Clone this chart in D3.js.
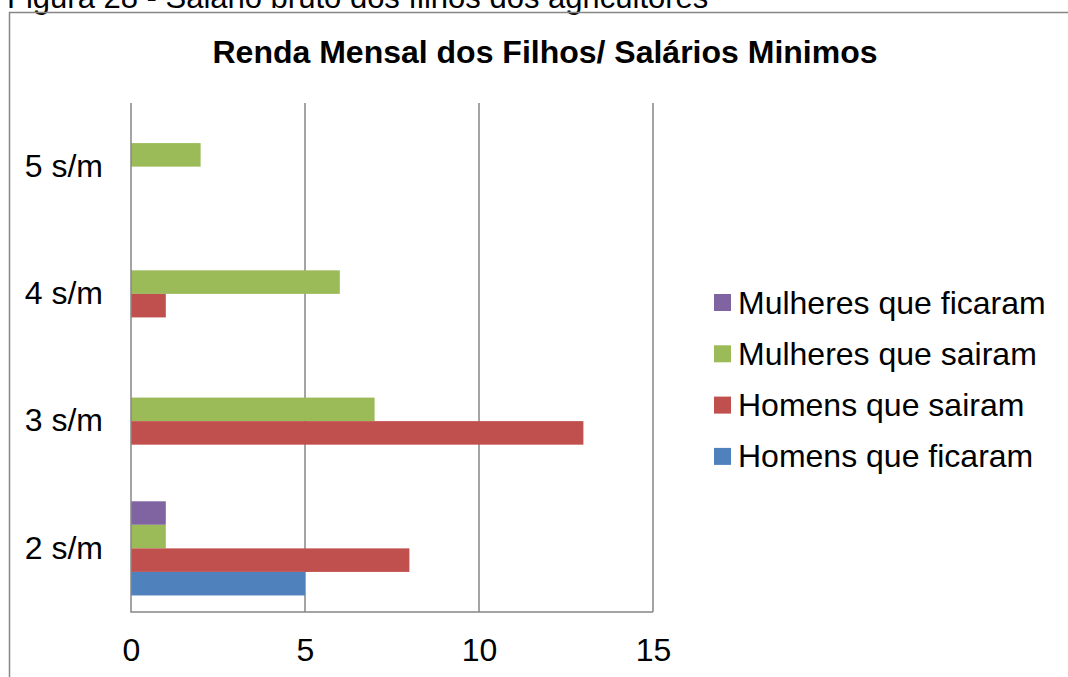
<!DOCTYPE html>
<html>
<head>
<meta charset="utf-8">
<script src="https://cdn.jsdelivr.net/npm/d3@7"></script>
<style>
  body { margin: 0; background: #fff; }
  text { font-family: "Liberation Sans", Arial, sans-serif; fill: #000; }
</style>
</head>
<body>
<script>
var categories = ["5 s/m", "4 s/m", "3 s/m", "2 s/m"];
var seriesNames = ["Mulheres que ficaram", "Mulheres que sairam", "Homens que sairam", "Homens que ficaram"];
var seriesColors = ["#8064A2", "#9BBB59", "#C0504D", "#4F81BD"];
// values per category, same order as categories
var mulheresFicaram = [0, 0, 0, 1];
var mulheresSairam  = [2, 6, 7, 1];
var homensSairam    = [0, 1, 13, 8];
var homensFicaram   = [0, 0, 0, 5];
var xTicks = [0, 5, 10, 15];

var seriesValues = [mulheresFicaram, mulheresSairam, homensSairam, homensFicaram];

var width = 1068,
    height = 677;

var svg = d3.select("body")
    .append("svg")
    .attr("width", width)
    .attr("height", height);

// caption above the chart frame (cut off at the top)
svg.append("text")
    .attr("x", 7)
    .attr("y", 8)
    .style("font-size", "31px")
    .text("Figura 28 - Salário bruto dos filhos dos agricultores");

// chart frame
svg.append("path")
    .attr("d", "M9.5,677 V12.5 H1068")
    .attr("fill", "none")
    .attr("stroke", "#868686")
    .attr("stroke-width", 1.5);

svg.append("text")
    .attr("x", 545)
    .attr("y", 63)
    .attr("text-anchor", "middle")
    .style("font-size", "32px")
    .style("font-weight", "bold")
    .text("Renda Mensal dos Filhos/ Salários Minimos");

var plotLeft = 131, plotRight = 653, plotTop = 103, plotBottom = 612;

var x = d3.scaleLinear().domain([0, 15]).range([plotLeft, plotRight]);
var y0 = d3.scaleBand().domain(categories).range([plotTop, plotBottom]);
var pad = y0.bandwidth() * 0.13;
var y1 = d3.scaleBand().domain(seriesNames).range([pad, y0.bandwidth() - pad]);

// vertical gridlines
svg.append("g")
    .selectAll("line")
    .data(xTicks.filter(function(d) { return d > 0; }))
    .enter().append("line")
    .attr("x1", function(d) { return x(d); })
    .attr("x2", function(d) { return x(d); })
    .attr("y1", plotTop)
    .attr("y2", plotBottom)
    .attr("stroke", "#868686")
    .attr("stroke-width", 1.5);

// bars
var groups = svg.append("g")
    .selectAll("g")
    .data(categories)
    .enter().append("g")
    .attr("transform", function(d) { return "translate(0," + y0(d) + ")"; });

groups.selectAll("rect")
    .data(function(c, ci) {
        return seriesNames.map(function(s, si) {
            return { name: s, value: seriesValues[si][ci], color: seriesColors[si] };
        }).filter(function(d) { return d.value > 0; });
    })
    .enter().append("rect")
    .attr("x", x(0))
    .attr("y", function(d) { return y1(d.name); })
    .attr("width", function(d) { return x(d.value) - x(0); })
    .attr("height", y1.bandwidth())
    .attr("fill", function(d) { return d.color; });

// axes lines
svg.append("path")
    .attr("d", "M" + plotLeft + "," + plotTop + " V" + plotBottom + " H" + plotRight)
    .attr("fill", "none")
    .attr("stroke", "#868686")
    .attr("stroke-width", 1.5);

// x tick labels
var xAxis = svg.append("g")
    .attr("transform", "translate(0," + plotBottom + ")")
    .call(d3.axisBottom(x).tickValues(xTicks).tickSize(0).tickPadding(26));
xAxis.select(".domain").remove();
xAxis.selectAll("text")
    .style("font-size", "32px")
    .attr("fill", "#000")
    .attr("dy", "0.72em");

// y category labels
var yAxis = svg.append("g")
    .attr("transform", "translate(" + (plotLeft - 28) + ",0)")
    .call(d3.axisLeft(y0).tickSize(0).tickPadding(0));
yAxis.select(".domain").remove();
yAxis.selectAll("text")
    .style("font-size", "32px")
    .attr("fill", "#000");

// legend
var legend = svg.append("g")
    .selectAll("g")
    .data(seriesNames)
    .enter().append("g")
    .attr("transform", function(d, i) { return "translate(714," + (294 + i * 51.3) + ")"; });

legend.append("rect")
    .attr("width", 17)
    .attr("height", 17)
    .attr("fill", function(d, i) { return seriesColors[i]; });

legend.append("text")
    .attr("x", 24)
    .attr("y", 19.5)
    .style("font-size", "32px")
    .text(function(d) { return d; });
</script>
</body>
</html>
